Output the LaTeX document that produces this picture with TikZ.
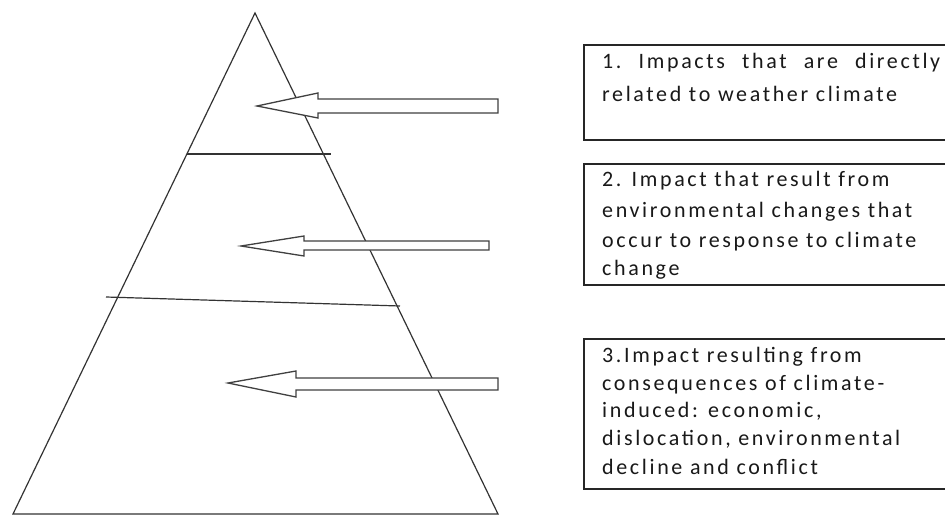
\documentclass[tikz,border=0pt]{standalone}
\usepackage{fontspec}
\setmainfont{Carlito}[LetterSpace=12]
\begin{document}
\begin{tikzpicture}[x=1pt,y=-1pt,
  ln/.style={draw=black!80, line width=1.2pt},
  blk/.style={draw=black!75, line width=1.3pt, fill=white, line join=miter},
  boxline/.style={draw=black!85, line width=1.5pt},
  txt/.style={anchor=base west, inner sep=0pt, text=black!90, font=\fontsize{22}{26}\selectfont}]
\clip (0,0) rectangle (945,516);
\fill[white] (0,0) rectangle (945,516);
% pyramid
\coordinate (apex) at (255,13);
\coordinate (bl) at (13,514);
\coordinate (br) at (498,514);
\draw[ln, line join=miter] (apex) -- (bl) -- (br) -- cycle;
\coordinate (l1a) at (187,154); \coordinate (l1b) at (331,154);
\coordinate (l2a) at (106,297); \coordinate (l2b) at (400,306);
\draw[ln] (l1a) -- (l1b);
\draw[ln] (l2a) -- (l2b);
% block arrows
\draw[blk] (257,106) -- (318,93) -- (318,99) -- (498,99) -- (498,113) -- (318,113) -- (318,118) -- cycle;
\draw[blk] (241,246) -- (304,236) -- (304,241) -- (489,241) -- (489,250) -- (304,250) -- (304,256) -- cycle;
\draw[blk] (228,383) -- (296,371) -- (296,378) -- (498,378) -- (498,390) -- (296,390) -- (296,397) -- cycle;
% boxes
\draw[boxline] (950,45) -- (584,45) -- (584,140) -- (950,140);
\draw[boxline] (950,164) -- (584,164) -- (584,285) -- (950,285);
\draw[boxline] (950,339) -- (584,339) -- (584,489) -- (950,489);
% texts
\node[txt] (t1a) at (602,69) {\hbox to 338pt{1.\hfill Impacts\hfill that\hfill are\hfill directly}};
\node[txt] (t1b) at (602,102) {related to weather climate};
\node[txt] (t2a) at (602,186) {2. Impact that result from};
\node[txt] (t2b) at (602,217) {environmental changes that};
\node[txt] (t2c) at (602,247) {occur to response to climate};
\node[txt] (t2d) at (602,275) {change};
\node[txt] (t3a) at (602,362) {3.Impact resulting from};
\node[txt] (t3b) at (602,390) {consequences of climate-};
\node[txt] (t3c) at (602,417) {induced: economic,};
\node[txt] (t3d) at (602,445) {dislocation, environmental};
\node[txt] (t3e) at (602,474) {decline and conflict};
\end{tikzpicture}
\end{document}
